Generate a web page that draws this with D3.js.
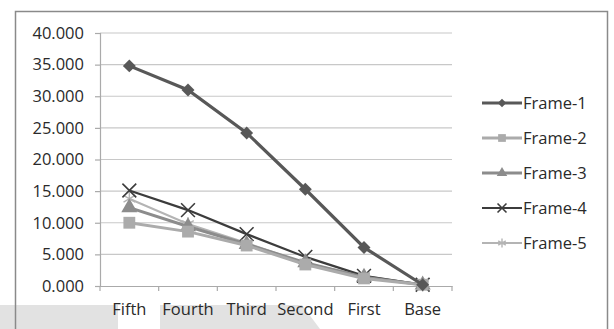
<!DOCTYPE html>
<html>
<head>
<meta charset="utf-8">
<script src="https://cdn.jsdelivr.net/npm/d3@7"></script>
<style>
  body { margin: 0; background: #fff; }
  svg { display: block; }
  text { font-family: "Open Sans", "Noto Sans", sans-serif; fill: #2a2a2a; }
</style>
</head>
<body>
<svg id="chart" width="614" height="329"></svg>
<script>
// categories along the x axis
var categories = ["Fifth", "Fourth", "Third", "Second", "First", "Base"];
var seriesNames = ["Frame-1", "Frame-2", "Frame-3", "Frame-4", "Frame-5"];
var frame1 = [34.8, 31.0, 24.2, 15.3, 6.1, 0.2];
var frame2 = [10.0, 8.6, 6.4, 3.4, 1.2, 0.2];
var frame3 = [12.4, 9.4, 6.6, 3.7, 1.4, 0.2];
var frame4 = [15.1, 12.0, 8.2, 4.6, 1.6, 0.2];
var frame5 = [13.8, 9.8, 6.8, 3.6, 1.6, 0.2];
var yTicks = [0, 5, 10, 15, 20, 25, 30, 35, 40];

var fontSize = 16.5;
var svg = d3.select("#chart");

// page artifact at the bottom (grey band)
svg.append("path")
    .attr("d", "M0,305 L118,305 L118,329 L0,329 Z")
    .attr("fill", "#e2e2e2");
svg.append("path")
    .attr("d", "M160,305 L302,305 L320,329 L160,329 Z")
    .attr("fill", "#e2e2e2");

// outer frame
svg.append("rect")
    .attr("x", 15.5).attr("y", 11.5)
    .attr("width", 592).attr("height", 340)
    .attr("fill", "none")
    .attr("stroke", "#8a8a8a")
    .attr("stroke-width", 1.5);

var x = d3.scaleBand().domain(categories).range([100, 452]);
var y = d3.scaleLinear().domain([0, 40]).range([286, 33]);

// gridlines
svg.append("g").selectAll("line")
    .data(yTicks.slice(1))
    .enter().append("line")
    .attr("x1", 100).attr("x2", 452)
    .attr("y1", d => y(d)).attr("y2", d => y(d))
    .attr("stroke", "#c8c8c8").attr("stroke-width", 1.2);

// y axis
var yAxis = d3.axisLeft(y).tickValues(yTicks).tickSize(5).tickPadding(11)
    .tickFormat(d3.format(".3f"));
var gy = svg.append("g").attr("transform", "translate(100,0)").call(yAxis);
gy.selectAll("line, path").attr("stroke", "#aaa").attr("stroke-width", 1.2);
gy.selectAll("text").attr("font-size", fontSize).attr("fill", "#2a2a2a");

// x axis
var xAxis = d3.axisBottom(x).tickSize(0).tickPadding(17);
var gx = svg.append("g").attr("transform", "translate(0,286)").call(xAxis);
gx.select("path").attr("stroke", "#aaa").attr("stroke-width", 1.2);
gx.selectAll("text").attr("font-size", fontSize).attr("fill", "#2a2a2a");
gx.append("g").selectAll("line")
    .data(categories.concat(["end"]))
    .enter().append("line")
    .attr("x1", (d, i) => i < categories.length ? x(d) : x.range()[1])
    .attr("x2", (d, i) => i < categories.length ? x(d) : x.range()[1])
    .attr("y1", 0).attr("y2", 5)
    .attr("stroke", "#aaa").attr("stroke-width", 1.2);

var series = [
    {name: seriesNames[0], values: frame1, color: "#585858", width: 3.2, marker: "diamond"},
    {name: seriesNames[1], values: frame2, color: "#ababab", width: 3, marker: "square"},
    {name: seriesNames[2], values: frame3, color: "#8c8c8c", width: 3, marker: "triangle"},
    {name: seriesNames[3], values: frame4, color: "#3c3c3c", width: 2.2, marker: "x"},
    {name: seriesNames[4], values: frame5, color: "#b4b4b4", width: 2, marker: "star"}
];

var cx = d => x(d) + x.bandwidth() / 2;

function drawMarker(g, type, color, size) {
    if (type === "diamond") {
        g.append("path").attr("d", d3.symbol(d3.symbolSquare, size * 6))
            .attr("transform", "rotate(45)").attr("fill", color);
    } else if (type === "square") {
        g.append("path").attr("d", d3.symbol(d3.symbolSquare, size * 10)).attr("fill", color);
    } else if (type === "triangle") {
        g.append("path").attr("d", d3.symbol(d3.symbolTriangle, size * 8)).attr("fill", color);
    } else if (type === "x") {
        g.append("path").attr("d", d3.symbol(d3.symbolX, size * 9))
            .attr("fill", "none").attr("stroke", color).attr("stroke-width", 1.6);
    } else {
        g.append("path").attr("d", d3.symbol(d3.symbolAsterisk, size * 9))
            .attr("fill", "none").attr("stroke", color).attr("stroke-width", 1.4);
    }
}

var line = d3.line().x((d, i) => cx(categories[i])).y(d => y(d));

// draw series in reverse so Frame-1 is on top
series.slice().reverse().forEach(function(s) {
    svg.append("path")
        .datum(s.values)
        .attr("d", line)
        .attr("fill", "none")
        .attr("stroke", s.color)
        .attr("stroke-width", s.width);
    s.values.forEach(function(v, i) {
        var g = svg.append("g").attr("transform", "translate(" + cx(categories[i]) + "," + y(v) + ")");
        drawMarker(g, s.marker, s.color, 14);
    });
});

// legend
var legend = svg.append("g").attr("transform", "translate(482,103)");
series.forEach(function(s, i) {
    var row = legend.append("g").attr("transform", "translate(0," + (i * 35) + ")");
    row.append("line").attr("x1", 0).attr("x2", 40).attr("y1", 0).attr("y2", 0)
        .attr("stroke", s.color).attr("stroke-width", s.width);
    var m = row.append("g").attr("transform", "translate(20,0)");
    drawMarker(m, s.marker, s.color, 6);
    row.append("text").attr("x", 41).attr("y", 6)
        .attr("font-size", fontSize).text(s.name);
});
</script>
</body>
</html>
